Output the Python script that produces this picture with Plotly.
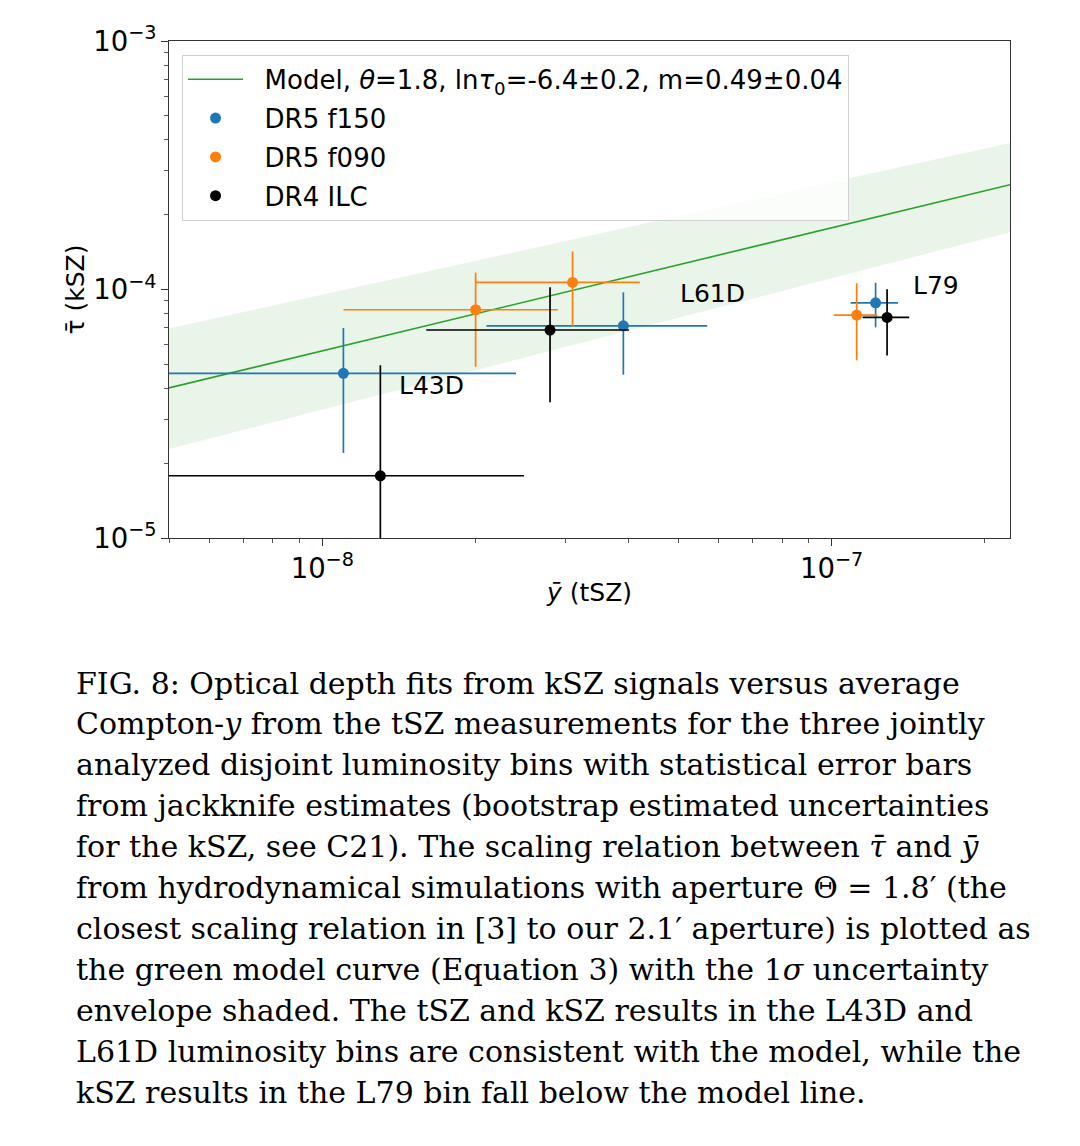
import numpy as np
import plotly.graph_objects as go

# luminosity bins
bins = ["L43D", "L61D", "L79"]

# DR5 f150: mean Compton-y (tSZ) and mean tau (kSZ), with errors
f150_y = [1.10e-8, 3.90e-8, 1.22e-7]
f150_yerr = [1.30e-8, 1.80e-8, 1.30e-8]
f150_tau = [4.60e-5, 7.14e-5, 8.84e-5]
f150_tauerr = [2.40e-5, 2.60e-5, 1.80e-5]

# DR5 f090
f090_y = [2.00e-8, 3.10e-8, 1.12e-7]
f090_yerr = [0.90e-8, 1.10e-8, 1.10e-8]
f090_tau = [8.29e-5, 1.068e-4, 7.89e-5]
f090_tauerr = [3.40e-5, 3.55e-5, 2.70e-5]

# DR4 ILC
ilc_y = [1.30e-8, 2.80e-8, 1.285e-7]
ilc_yerr = [1.19e-8, 1.20e-8, 1.35e-8]
ilc_tau = [1.78e-5, 6.87e-5, 7.72e-5]
ilc_tauerr = [3.18e-5, 3.35e-5, 2.30e-5]

# model line and 1 sigma envelope (read at the plot edges)
model_y = [5.0e-9, 2.24e-7]
model_tau = [4.02e-5, 2.64e-4]
model_lo = [2.28e-5, 1.70e-4]
model_hi = [6.97e-5, 3.89e-4]

# bin label positions
label_x = [1.40e-8, 5.0e-8, 1.43e-7]
label_tau = [4.1e-5, 9.6e-5, 1.04e-4]

caption = [
    "FIG. 8: Optical depth fits from kSZ signals versus average",
    "Compton-<i>y</i> from the tSZ measurements for the three jointly",
    "analyzed disjoint luminosity bins with statistical error bars",
    "from jackknife estimates (bootstrap estimated uncertainties",
    "for the kSZ, see C21). The scaling relation between <i>τ\u0304</i> and <i>ȳ</i>",
    "from hydrodynamical simulations with aperture Θ = 1.8′ (the",
    "closest scaling relation in [3] to our 2.1′ aperture) is plotted as",
    "the green model curve (Equation 3) with the 1<i>σ</i> uncertainty",
    "envelope shaded. The tSZ and kSZ results in the L43D and",
    "L61D luminosity bins are consistent with the model, while the",
    "kSZ results in the L79 bin fall below the model line.",
]

# the page body has an 8px margin, so the figure is a bit smaller than the window
OFF = 8
W, H = 1080 - OFF, 1146 - OFF
L, T = 169 - OFF, 41 - OFF
R, B = W - (1010 - OFF), H - (538 - OFF)
FONT = "DejaVu Sans"
PAD = "\u00a0\u00a0"

fig = go.Figure()

# envelope
fig.add_trace(go.Scatter(x=model_y, y=model_lo, mode="lines", line=dict(width=0),
                         showlegend=False, hoverinfo="skip"))
fig.add_trace(go.Scatter(x=model_y, y=model_hi, mode="lines", line=dict(width=0),
                         fill="tonexty", fillcolor="rgba(44,160,44,0.11)",
                         showlegend=False, hoverinfo="skip"))
fig.add_trace(go.Scatter(x=model_y, y=model_tau, mode="lines", legendgroup="model",
                         line=dict(color="#2ca02c", width=1.6),
                         name=PAD + "Model, <i>θ</i>=1.8, ln<i>τ</i><sub>0</sub>=-6.4±0.2, m=0.49±0.04"))

def add_points(xs, xe, ys, ye, color, name):
    fig.add_trace(go.Scatter(
        x=xs, y=ys, mode="markers", name=PAD + name, legendgroup=name,
        marker=dict(color=color, size=11),
        error_x=dict(type="data", array=xe, color=color, thickness=1.7, width=0),
        error_y=dict(type="data", array=ye, color=color, thickness=1.7, width=0),
    ))

add_points(f150_y, f150_yerr, f150_tau, f150_tauerr, "#1f77b4", "DR5 f150")
add_points(f090_y, f090_yerr, f090_tau, f090_tauerr, "#ff7f0e", "DR5 f090")
add_points(ilc_y, ilc_yerr, ilc_tau, ilc_tauerr, "black", "DR4 ILC")

for name, lx, ly in zip(bins, label_x, label_tau):
    fig.add_annotation(x=np.log10(lx), y=np.log10(ly), text=name, showarrow=False,
                       xanchor="left", yanchor="middle",
                       font=dict(family=FONT, size=25, color="black"))

plot_h = H - T - B
plot_w = W - L - R

# y axis title
fig.add_annotation(xref="paper", yref="paper", x=(75 - OFF - L) / plot_w, y=0.5,
                   text="τ\u0304 (kSZ)", textangle=-90, showarrow=False,
                   xanchor="center", yanchor="middle",
                   font=dict(family=FONT, size=25, color="black"))

for i, line in enumerate(caption):
    ypx = 683 + 40.9 * i - OFF
    fig.add_annotation(xref="paper", yref="paper",
                       x=(74 - OFF - L) / plot_w, y=(H - B - ypx) / plot_h,
                       text=line, showarrow=False, xanchor="left", yanchor="middle",
                       font=dict(family="DejaVu Serif", size=30, color="black"))

axis_common = dict(
    type="log", showgrid=False, zeroline=False,
    showline=True, linecolor="#333333", linewidth=1, mirror=True,
    ticks="outside", ticklen=7, tickwidth=1, tickcolor="#333333",
    dtick=1, exponentformat="power",
    tickfont=dict(family=FONT, size=22, color="black"),
    minor=dict(ticks="outside", ticklen=4, tickcolor="#555555", dtick="D1", showgrid=False),
)

fig.update_xaxes(axis_common, range=[np.log10(5e-9), np.log10(2.24e-7)],
                 title=dict(text="<i>ȳ</i> (tSZ)", font=dict(family=FONT, size=25), standoff=0))
fig.update_yaxes(axis_common, range=[-5, -3])

fig.update_layout(
    width=W, height=H, autosize=False,
    margin=dict(l=L, r=R, t=T, b=B),
    paper_bgcolor="white", plot_bgcolor="white",
    font=dict(family=FONT, color="black"),
    legend=dict(x=0.0155, y=0.972, xanchor="left", yanchor="top",
                traceorder="grouped", tracegroupgap=2,
                bgcolor="rgba(255,255,255,0.8)", bordercolor="#d0d0d0", borderwidth=1,
                font=dict(family=FONT, size=26), itemwidth=55),
)

fig.write_html("out.html")
